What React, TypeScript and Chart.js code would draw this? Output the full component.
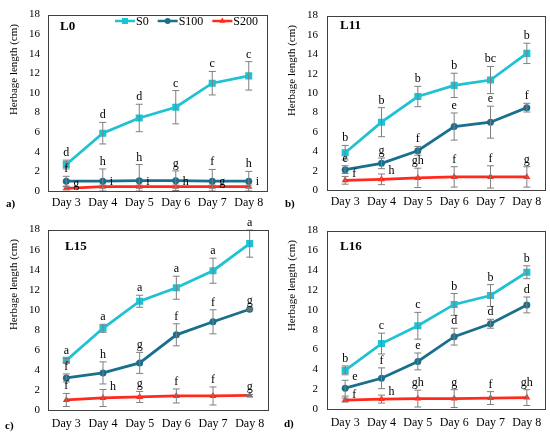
import { useEffect, useRef } from "react";
import { Chart, registerables } from "chart.js";

Chart.register(...registerables);

const SERIF = "'Liberation Serif', 'Times New Roman', serif";
Chart.defaults.font.family = SERIF;

// shared axis data
const days = ["Day 3", "Day 4", "Day 5", "Day 6", "Day 7", "Day 8"];
const seriesNames = ["S0", "S100", "S200"];
const yMin = 0;
const yMax = 18;
const yStep = 2;
const yTitle = "Herbage length (cm)";

// L0
const l0S0 = [2.7, 5.9, 7.45, 8.55, 11.0, 11.75];
const l0S0Err = [0.45, 1.1, 1.4, 1.7, 1.2, 1.45];
const l0S0Letters = ["d", "d", "d", "c", "c", "c"];
const l0S100 = [1.0, 1.0, 1.05, 1.05, 1.0, 1.0];
const l0S100Err = [0.5, 1.25, 1.65, 1.0, 1.2, 1.0];
const l0S100Letters = ["f", "h", "h", "g", "f", "h"];
const l0S200 = [0.28, 0.45, 0.45, 0.45, 0.45, 0.45];
const l0S200Err = [0.15, 0.15, 0.15, 0.15, 0.15, 0.15];
const l0S200Letters = ["g", "i", "i", "h", "g", "i"];

// L11
const l11S0 = [3.85, 7.0, 9.65, 10.8, 11.35, 14.1];
const l11S0Err = [0.75, 1.5, 1.05, 1.25, 1.4, 1.05];
const l11S0Letters = ["b", "b", "b", "b", "bc", "b"];
const l11S100 = [2.1, 2.75, 4.05, 6.55, 7.0, 8.5];
const l11S100Err = [0.4, 0.55, 0.45, 1.4, 1.65, 0.45];
const l11S100Letters = ["e", "g", "f", "e", "e", "f"];
const l11S200 = [1.0, 1.1, 1.25, 1.35, 1.35, 1.35];
const l11S200Err = [0.4, 0.55, 1.0, 1.05, 1.15, 1.05];
const l11S200Letters = ["f", "h", "gh", "f", "f", "g"];

// L15
const l15S0 = [4.95, 8.15, 10.85, 12.2, 13.9, 16.6];
const l15S0Err = [0.2, 0.4, 0.6, 1.15, 1.25, 1.35];
const l15S0Letters = ["a", "a", "a", "a", "a", "a"];
const l15S100 = [3.2, 3.7, 4.7, 7.5, 8.8, 10.05];
const l15S100Err = [0.4, 1.1, 1.05, 1.1, 1.2, 0.1];
const l15S100Letters = ["f", "h", "g", "f", "f", "g"];
const l15S200 = [1.0, 1.2, 1.3, 1.4, 1.4, 1.45];
const l15S200Err = [0.65, 0.85, 0.55, 0.7, 0.9, 0.1];
const l15S200Letters = ["f", "h", "g", "f", "f", "g"];

// L16
const l16S0 = [3.9, 6.6, 8.4, 10.55, 11.45, 13.8];
const l16S0Err = [0.45, 1.05, 1.35, 1.1, 1.1, 0.65];
const l16S0Letters = ["b", "c", "c", "b", "b", "b"];
const l16S100 = [2.1, 3.1, 4.8, 7.3, 8.6, 10.5];
const l16S100Err = [0.8, 1.05, 0.85, 0.85, 0.45, 0.8];
const l16S100Letters = ["e", "f", "e", "d", "d", "d"];
const l16S200 = [0.9, 1.0, 1.05, 1.05, 1.1, 1.15];
const l16S200Err = [0.2, 0.4, 0.85, 0.9, 0.65, 0.8];
const l16S200Letters = ["f", "h", "gh", "g", "f", "gh"];

const COLORS = ["#1FC2D3", "#1A6F8D", "#FF2A1C"];
const MARKERS = ["rect", "circle", "triangle"] as const;
const RADII = [5, 3.5, 4];
const ERR_COLOR = "#7F7F7F";
const FRAME_COLOR = "#404040";

type Panel = {
  title: string;
  tag: string;
  x: number;
  y: number;
  w: number;
  h: number;
  top: number;
  padRight: number;
  yWidth: number;
  xHeight: number;
  xPad: number;
  yPad: number;
  yTitleX: number;
  tagX: number;
  tagY: number;
  titleX: number;
  titleY: number;
  legend: boolean;
  values: number[][];
  errors: number[][];
  letters: string[][];
  // series index -> day indices whose letter sits to the right of the point
  side: Record<number, number[]>;
};

const panels: Panel[] = [
  {
    title: "L0", tag: "a)", x: 0, y: 0, w: 275, h: 215,
    top: 10, padRight: 8, yWidth: 48, xHeight: 24, xPad: 5, yPad: 8, yTitleX: 14,
    tagX: 6, tagY: 204, titleX: 60, titleY: 27, legend: true,
    values: [l0S0, l0S100, l0S200],
    errors: [l0S0Err, l0S100Err, l0S200Err],
    letters: [l0S0Letters, l0S100Letters, l0S200Letters],
    side: { 2: [0, 1, 2, 3, 4, 5] },
  },
  {
    title: "L11", tag: "b)", x: 275, y: 0, w: 275, h: 215,
    top: 9, padRight: 3, yWidth: 52, xHeight: 25, xPad: 5, yPad: 9, yTitleX: 17,
    tagX: 10, tagY: 204, titleX: 65, titleY: 26, legend: false,
    values: [l11S0, l11S100, l11S200],
    errors: [l11S0Err, l11S100Err, l11S200Err],
    letters: [l11S0Letters, l11S100Letters, l11S200Letters],
    side: { 2: [0, 1] },
  },
  {
    title: "L15", tag: "c)", x: 0, y: 215, w: 275, h: 220,
    top: 13, padRight: 7, yWidth: 48, xHeight: 25, xPad: 7, yPad: 8, yTitleX: 14,
    tagX: 5, tagY: 211, titleX: 65, titleY: 32, legend: false,
    values: [l15S0, l15S100, l15S200],
    errors: [l15S0Err, l15S100Err, l15S200Err],
    letters: [l15S0Letters, l15S100Letters, l15S200Letters],
    side: { 2: [1] },
  },
  {
    title: "L16", tag: "d)", x: 275, y: 215, w: 275, h: 220,
    top: 14, padRight: 4, yWidth: 52, xHeight: 26, xPad: 7, yPad: 9, yTitleX: 17,
    tagX: 9, tagY: 209, titleX: 65, titleY: 32, legend: false,
    values: [l16S0, l16S100, l16S200],
    errors: [l16S0Err, l16S100Err, l16S200Err],
    letters: [l16S0Letters, l16S100Letters, l16S200Letters],
    side: { 1: [0], 2: [0, 1] },
  },
];

function drawMarker(ctx: CanvasRenderingContext2D, kind: string, x: number, y: number, r: number) {
  ctx.beginPath();
  if (kind === "rect") {
    const s = r * Math.SQRT1_2;
    ctx.rect(x - s, y - s, s * 2, s * 2);
  } else if (kind === "circle") {
    ctx.arc(x, y, r, 0, Math.PI * 2);
  } else {
    ctx.moveTo(x, y - r);
    ctx.lineTo(x + r * 0.87, y + r * 0.5);
    ctx.lineTo(x - r * 0.87, y + r * 0.5);
    ctx.closePath();
  }
  ctx.fill();
}

function PanelChart({ p }: { p: Panel }) {
  const canvasRef = useRef<HTMLCanvasElement>(null);

  useEffect(() => {
    if (!canvasRef.current) return;

    const overlay = {
      id: "overlay",
      afterDatasetsDraw(chart: Chart) {
        const ctx = chart.ctx;
        const ys = chart.scales.y;
        ctx.save();
        // error bars
        ctx.strokeStyle = ERR_COLOR;
        ctx.lineWidth = 1;
        p.values.forEach((vals, di) => {
          const meta = chart.getDatasetMeta(di);
          meta.data.forEach((pt, i) => {
            const e = p.errors[di][i];
            const y1 = ys.getPixelForValue(vals[i] + e);
            const y2 = ys.getPixelForValue(Math.max(vals[i] - e, 0));
            ctx.beginPath();
            ctx.moveTo(pt.x, y1);
            ctx.lineTo(pt.x, y2);
            ctx.moveTo(pt.x - 3.5, y1);
            ctx.lineTo(pt.x + 3.5, y1);
            ctx.moveTo(pt.x - 3.5, y2);
            ctx.lineTo(pt.x + 3.5, y2);
            ctx.stroke();
          });
        });
        // significance letters
        ctx.fillStyle = "#000";
        ctx.font = `12px ${SERIF}`;
        p.values.forEach((vals, di) => {
          const meta = chart.getDatasetMeta(di);
          const side = p.side[di] || [];
          meta.data.forEach((pt, i) => {
            const top = ys.getPixelForValue(vals[i] + p.errors[di][i]);
            const txt = p.letters[di][i];
            if (side.includes(i)) {
              ctx.textAlign = "left";
              ctx.textBaseline = "middle";
              ctx.fillText(txt, pt.x + 7, top - 3);
            } else {
              ctx.textAlign = "center";
              ctx.textBaseline = "alphabetic";
              ctx.fillText(txt, pt.x, top - 4);
            }
          });
        });
        ctx.restore();
      },
      afterDraw(chart: Chart) {
        const ctx = chart.ctx;
        const a = chart.chartArea;
        ctx.save();
        ctx.strokeStyle = FRAME_COLOR;
        ctx.lineWidth = 1;
        ctx.strokeRect(Math.round(a.left) + 0.5, Math.round(a.top) + 0.5, Math.round(a.right - a.left), Math.round(a.bottom - a.top));

        ctx.fillStyle = "#000";
        // rotated axis title, sitting in the upper half of the plot
        ctx.save();
        ctx.font = `11px ${SERIF}`;
        ctx.translate(p.yTitleX, a.top + 55);
        ctx.rotate(-Math.PI / 2);
        ctx.textAlign = "center";
        ctx.textBaseline = "middle";
        ctx.fillText(yTitle, 0, 0);
        ctx.restore();

        ctx.textBaseline = "middle";
        ctx.textAlign = "left";
        ctx.font = `bold 13px ${SERIF}`;
        ctx.fillText(p.title, p.titleX, p.titleY);
        ctx.font = `bold 11px ${SERIF}`;
        ctx.fillText(p.tag, p.tagX, p.tagY);

        if (p.legend) {
          let lx = 115;
          const ly = 21;
          ctx.font = `12px ${SERIF}`;
          seriesNames.forEach((name, si) => {
            ctx.strokeStyle = COLORS[si];
            ctx.fillStyle = COLORS[si];
            ctx.lineWidth = 2.5;
            ctx.beginPath();
            ctx.moveTo(lx, ly);
            ctx.lineTo(lx + 20, ly);
            ctx.stroke();
            drawMarker(ctx, MARKERS[si], lx + 10, ly, RADII[si] * 0.85);
            ctx.fillStyle = "#000";
            ctx.fillText(name, lx + 21, ly + 0.5);
            lx += 21 + ctx.measureText(name).width + 9;
          });
        }
        ctx.restore();
      },
    };

    const chart = new Chart(canvasRef.current, {
      type: "line",
      data: {
        labels: days,
        datasets: seriesNames.map((name, si) => ({
          label: name,
          data: p.values[si],
          borderColor: COLORS[si],
          backgroundColor: COLORS[si],
          borderWidth: 2.75,
          tension: 0,
          pointStyle: MARKERS[si],
          pointRadius: RADII[si],
          pointBorderWidth: 0,
          fill: false,
        })),
      },
      options: {
        animation: false,
        responsive: false,
        layout: { padding: { left: 0, top: p.top, right: p.padRight, bottom: 0 } },
        plugins: {
          legend: { display: false },
          tooltip: { enabled: false },
        },
        scales: {
          x: {
            offset: true,
            grid: { display: false, drawTicks: false },
            border: { display: false },
            ticks: { color: "#000", font: { size: 12 }, padding: p.xPad, maxRotation: 0, autoSkip: false },
            afterFit: (s: any) => {
              s.height = p.xHeight;
            },
          },
          y: {
            min: yMin,
            max: yMax,
            grid: { display: false, drawTicks: false },
            border: { display: false },
            ticks: { stepSize: yStep, color: "#000", font: { size: 11 }, padding: p.yPad },
            afterFit: (s: any) => {
              s.width = p.yWidth;
            },
          },
        },
      },
      plugins: [overlay],
    });

    return () => {
      chart.destroy();
    };
  }, [p]);

  return (
    <canvas
      ref={canvasRef}
      width={p.w}
      height={p.h}
      style={{ position: "absolute", left: p.x, top: p.y, width: p.w, height: p.h }}
    />
  );
}

export default function App() {
  return (
    <div style={{ position: "absolute", left: 0, top: 0, width: 550, height: 435, background: "#fff" }}>
      {panels.map((p) => (
        <PanelChart key={p.title} p={p} />
      ))}
    </div>
  );
}
